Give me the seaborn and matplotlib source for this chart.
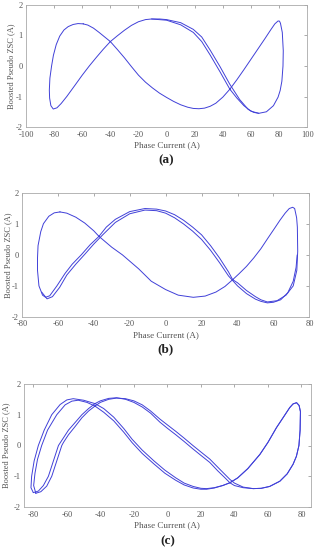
import matplotlib
matplotlib.use("Agg")
import matplotlib.pyplot as plt
import seaborn as sns
import pandas as pd

# (a) traced loop + second (offset) trace
a_x = [-59.3, -56, -52, -48, -44, -40, -35, -30, -25, -20, -15, -10, -5, 0, 5, 10, 15, 19, 23,
       27, 31, 35, 40, 45, 50, 55, 60, 65, 70, 74, 77, 79.3, 80.3, 81, 82.3, 83, 82.8, 82, 80.8,
       79.3, 76, 71, 65.6, 60, 55, 50, 45, 38, 31, 25, 19, 10, 0, -10.7, -15, -20, -25, -30,
       -35, -40, -45, -50, -55, -60, -65, -71, -75, -78, -80.6, -82.3, -83.2, -83.4, -83.0,
       -81.8, -80.5, -78.5, -76, -73, -70, -66.5, -63, -59.3]
a_y = [1.38, 1.34, 1.24, 1.1, 0.95, 0.8, 0.54, 0.27, -0.02, -0.3, -0.53, -0.72, -0.89, -1.03,
       -1.16, -1.27, -1.35, -1.39, -1.4, -1.38, -1.32, -1.22, -1.02, -0.76, -0.45, -0.12, 0.22,
       0.56, 0.9, 1.18, 1.38, 1.475, 1.47, 1.4, 1.1, 0.5, 0.0, -0.5, -0.8, -1.02, -1.3, -1.5,
       -1.55, -1.48, -1.3, -1.05, -0.76, -0.19, 0.36, 0.8, 1.1, 1.35, 1.5, 1.54, 1.52, 1.45,
       1.33, 1.17, 0.99, 0.8, 0.55, 0.28, 0.0, -0.3, -0.62, -1.0, -1.23, -1.37, -1.41, -1.3,
       -1.05, -0.79, -0.4, 0.0, 0.35, 0.7, 0.98, 1.18, 1.29, 1.36, 1.39, 1.38]
a2_x = [-10.7, -5, 0, 10, 19, 25, 31, 38, 45, 52, 58, 62, 65.6]
a2_y = [1.54, 1.54, 1.52, 1.42, 1.2, 0.95, 0.52, -0.02, -0.6, -1.1, -1.42, -1.52, -1.55]

# (b)
b_x = [-58.8, -55, -50, -45, -40, -37.1, -30, -24, -15, -8, 0, 7, 15.4, 22, 28, 33, 37.3, 41,
       45, 49, 53, 57, 60.5, 63.6, 66.5, 68.8, 70.7, 71.8, 72.9, 73.3, 73.5, 73, 71, 67, 62,
       56.6, 53, 50, 45, 40, 37.3, 35, 30, 25, 20, 15, 10, 5, 0, -5, -11.5, -20, -28, -33,
       -37.1, -42, -47, -52, -56, -60.5, -64.5, -66.8, -68.5, -70.5, -71.3, -71.3, -71, -69.5,
       -68, -65, -62, -58.8]
b_y = [1.39, 1.35, 1.22, 1.03, 0.78, 0.6, 0.25, 0.0, -0.45, -0.85, -1.12, -1.3, -1.37, -1.33,
       -1.2, -1.02, -0.8, -0.6, -0.37, -0.1, 0.2, 0.55, 0.85, 1.12, 1.35, 1.5, 1.54, 1.5, 1.2,
       0.9, 0.12, -0.5, -1.0, -1.3, -1.48, -1.52, -1.45, -1.35, -1.15, -0.9, -0.8, -0.55, -0.1,
       0.3, 0.65, 0.9, 1.12, 1.3, 1.42, 1.48, 1.5, 1.4, 1.15, 0.9, 0.6, 0.33, 0.0, -0.3, -0.6,
       -1.0, -1.32, -1.37, -1.3, -1.0, -0.5, -0.1, 0.3, 0.75, 1.01, 1.25, 1.36, 1.39]
b2_x = [-69, -66, -63, -59, -55, -50, -45, -40, -35, -28, -20, -11.5, -5, 0, 5, 10, 15, 20, 25,
        30, 35, 40, 45, 50, 53, 56.6, 60, 64, 68, 71, 72.6, 73.2]
b2_y = [-1.2, -1.42, -1.35, -1.05, -0.65, -0.3, 0.02, 0.35, 0.65, 1.05, 1.33, 1.45, 1.43, 1.35,
        1.2, 1.0, 0.77, 0.5, 0.15, -0.25, -0.68, -1.0, -1.25, -1.43, -1.5, -1.55, -1.53, -1.45,
        -1.22, -0.85, -0.4, 0.0]

# (c)
c_x = [-80, -81.4, -81, -79.5, -77, -73.5, -69, -64, -60, -56.2, -50, -43.2, -38, -32, -26, -21,
       -15, -8, -1.5, 5, 10, 15.4, 20, 23.4, 28, 33, 37.3, 42, 48, 55.2, 60, 65.1, 69, 73, 75,
       77.1, 78.6, 79.4, 79.2, 78.5, 77, 75, 71.5, 67.1, 61, 56, 51.2, 45.2, 40, 37.3, 34, 30,
       25.3, 20, 15, 10, 5, 0, -4.5, -10, -15, -20, -25, -30.3, -35, -40, -43.2, -47, -51, -55,
       -59, -62, -65, -68, -71, -74, -77, -80]
c_y = [-1.53, -1.37, -1.0, -0.5, 0.0, 0.5, 1.0, 1.33, 1.48, 1.52, 1.47, 1.36, 1.2, 0.92, 0.55,
       0.2, -0.15, -0.5, -0.8, -1.05, -1.22, -1.33, -1.39, -1.4, -1.37, -1.3, -1.21, -1.05,
       -0.75, -0.29, 0.1, 0.58, 0.9, 1.23, 1.35, 1.39, 1.3, 1.1, 0.5, 0.0, -0.35, -0.61, -0.92,
       -1.16, -1.33, -1.39, -1.4, -1.37, -1.3, -1.21, -1.03, -0.82, -0.55, -0.32, -0.1, 0.13,
       0.35, 0.56, 0.76, 1.05, 1.25, 1.4, 1.5, 1.55, 1.53, 1.45, 1.36, 1.2, 1.0, 0.75, 0.5,
       0.25, 0.0, -0.5, -1.0, -1.3, -1.48, -1.53]
c2_x = [-78.5, -79.8, -79, -77.5, -75, -71.5, -66, -61, -57, -53.2, -48, -43.2, -38, -32, -26,
        -21, -15, -8, -1.5, 5, 10, 15.4, 20, 23.4, 28, 33, 37.3, 42, 48, 55.2, 60, 65.1, 69, 73,
        75, 77.1, 78.6, 79.4, 79.2, 78.5, 77, 75, 71.5, 67.1, 61, 56, 51.2, 45.2, 40, 37.3, 34,
        30, 25.3, 20, 15, 10, 5, 0, -4.5, -10, -15, -20, -25, -30.3, -35, -40, -43.2, -47, -51,
        -55, -59, -62, -63, -66, -69, -72, -75.5, -78.5]
c2_y = [-1.55, -1.3, -0.9, -0.45, 0.0, 0.5, 1.0, 1.32, 1.44, 1.47, 1.4, 1.28, 1.08, 0.8, 0.43,
        0.09, -0.26, -0.6, -0.9, -1.13, -1.28, -1.38, -1.42, -1.42, -1.38, -1.3, -1.21, -1.05,
        -0.75, -0.29, 0.1, 0.58, 0.9, 1.23, 1.35, 1.39, 1.3, 1.1, 0.5, 0.0, -0.35, -0.61, -0.92,
        -1.16, -1.33, -1.39, -1.4, -1.35, -1.22, -1.1, -0.92, -0.7, -0.44, -0.21, 0.01, 0.24,
        0.46, 0.67, 0.86, 1.12, 1.32, 1.45, 1.52, 1.54, 1.5, 1.4, 1.28, 1.12, 0.9, 0.62, 0.35,
        0.1, 0.0, -0.5, -1.0, -1.32, -1.5, -1.55]

panels = [
    ("(a)", [(a_x, a_y), (a2_x, a2_y)], (-100, 100), [-100, -80, -60, -40, -20, 0, 20, 40, 60, 80, 100]),
    ("(b)", [(b_x, b_y), (b2_x, b2_y)], (-80, 80), [-80, -60, -40, -20, 0, 20, 40, 60, 80]),
    ("(c)", [(c_x, c_y), (c2_x, c2_y)], (-85.5, 85.5), [-80, -60, -40, -20, 0, 20, 40, 60, 80]),
]
# axes boxes in figure fractions [left, bottom, width, height]
boxes = [[0.082, 0.769, 0.887, 0.222], [0.069, 0.424, 0.907, 0.225], [0.076, 0.078, 0.904, 0.224]]
letter_y = [0.709, 0.365, 0.016]
ylab_x = [-0.039, -0.033, -0.049]

sns.set_style("white")
plt.rcParams['font.family'] = ['Liberation Serif']
plt.rcParams['axes.unicode_minus'] = False

fig = plt.figure(figsize=(3.17, 5.50), dpi=100)
line_col = "#4040d8"

for i, (letter, traces, xlim, xticks) in enumerate(panels):
    ax = fig.add_axes(boxes[i])
    for tx, ty in traces:
        df = pd.DataFrame({"x": tx, "y": ty})
        sns.lineplot(data=df, x="x", y="y", sort=False, estimator=None, ax=ax,
                     color=line_col, lw=0.7)
    ax.set_xlim(*xlim)
    ax.set_ylim(-2, 2)
    ax.set_xticks(xticks)
    ax.set_yticks([-2, -1, 0, 1, 2])
    ax.tick_params(direction="in", top=True, right=True, length=2.5, width=0.5,
                   colors="#888888", labelcolor="#555555", labelsize=6)
    ax.tick_params(axis="x", pad=2.5)
    ax.tick_params(axis="y", pad=2.5)
    for s in ax.spines.values():
        s.set_color("#aaaaaa")
        s.set_linewidth(0.6)
    ax.set_xlabel("Phase Current (A)", fontsize=6.5, color="#555555", labelpad=2)
    ax.set_ylabel("Boosted Pseudo ZSC (A)", fontsize=6, color="#555555")
    ax.yaxis.set_label_coords(ylab_x[i], 0.5)
    b = boxes[i]
    fig.text(b[0] + b[2] / 2, letter_y[i], letter, ha="center", va="center",
             fontsize=9.5, fontweight="bold", color="#222222")

fig.savefig("out.png", dpi=100)
